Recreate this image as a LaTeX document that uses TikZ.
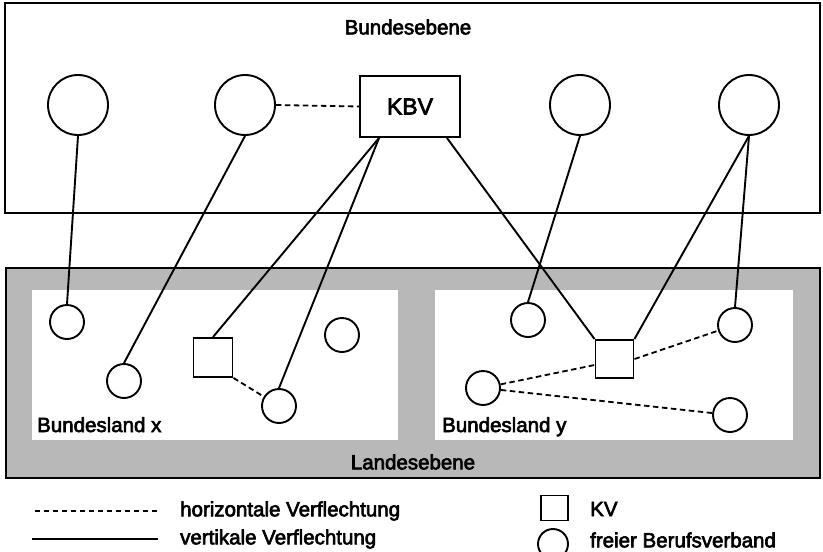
\documentclass[tikz,border=0pt]{standalone}
\usepackage{fontspec}
\setmainfont{Liberation Sans}
\newfontfamily\heavyfont{Liberation Sans}[FakeBold=3]
\begin{document}
\begin{tikzpicture}[x=1pt,y=-1pt,
  every node/.style={font=\heavyfont\fontsize{20.5}{24}\selectfont},
  lbl/.style={inner sep=0pt},
  bigcirc/.style={draw,circle,minimum size=60pt,inner sep=0pt,fill=white,line width=1.9pt},
  smallcirc/.style={draw,circle,minimum size=34pt,inner sep=0pt,fill=white,line width=1.9pt},
  kvbox/.style={draw,rectangle,minimum width=39pt,minimum height=39pt,inner sep=0pt,fill=white,line width=1.9pt},
  kbvbox/.style={draw,rectangle,minimum width=100pt,minimum height=61pt,inner sep=0pt,fill=white,line width=1.9pt,font=\heavyfont\fontsize{23}{27}\selectfont},
  vert/.style={line width=1.9pt},
  horiz/.style={line width=1.8pt,dash pattern=on 5.5pt off 3.5pt},
  frame/.style={draw,line width=1.9pt}
]
\useasboundingbox (0,0) rectangle (823,552);
% level boxes
\path[frame,fill=white] (5,3) rectangle (820,213);
\path[frame,fill=black!28] (6,268) rectangle (820,478);
\fill[white] (32,290) rectangle (398,440);
\fill[white] (435,290) rectangle (793,440);
\node[lbl] (bund) at (408,27) {Bundesebene};
\node[lbl] (land) at (413,462) {Landesebene};
\node[lbl,anchor=base west] (blx) at (37,432) {Bundesland x};
\node[lbl,anchor=base west] (bly) at (442,432) {Bundesland y};
% federal level
\node[bigcirc] (t1) at (78,105) {};
\node[bigcirc] (t2) at (245,105) {};
\node[bigcirc] (t3) at (580,105) {};
\node[bigcirc] (t4) at (749,105) {};
\node[kbvbox] (kbv) at (410,106.5) {KBV};
\coordinate (kb1) at ([xshift=20pt]kbv.south west);
\coordinate (kb2) at ([xshift=-14pt]kbv.south east);
% state x
\node[smallcirc] (a) at (67,322) {};
\node[smallcirc] (b) at (124,381) {};
\node[kvbox] (sql) at (213,357.5) {};
\node[smallcirc] (c) at (342,335) {};
\node[smallcirc] (d) at (279,406) {};
% state y
\node[smallcirc] (e) at (528,320) {};
\node[kvbox,minimum width=38pt,minimum height=38pt] (sqr) at (614.5,359) {};
\node[smallcirc] (f) at (735,325) {};
\node[smallcirc] (g) at (483,388) {};
\node[smallcirc] (h) at (730,415) {};
\coordinate (sqrin) at ([yshift=-6pt]sqr.west);
% vertical links
\draw[vert] (t1.south) -- (a.north);
\draw[vert] (t2.south) -- (b.north);
\draw[vert] (kb1) -- (sql.north);
\draw[vert] (kb1) -- (d.north);
\draw[vert] (kb2) -- (sqr.north west);
\draw[vert] (t3.south) -- (e.north);
\draw[vert] (t4.south) -- (sqr.north east);
\draw[vert] (t4.south) -- (f.north);
% horizontal links
\draw[horiz] (t2.east) -- (kbv.west);
\draw[horiz] (sql.south east) -- (d);
\draw[horiz] (g) -- (sqrin);
\draw[horiz] (sqr.east) -- (f);
\draw[horiz] (g) -- (h);
% legend
\coordinate (ld1) at (35,511);
\coordinate (ld2) at (158,511);
\coordinate (ls1) at (32,539);
\coordinate (ls2) at (158,539);
\draw[horiz,line width=1.5pt,dash pattern=on 5pt off 4pt] (ld1) -- (ld2);
\draw[vert] (ls1) -- (ls2);
\node[lbl,anchor=west] (lh) at (180,511) {horizontale Verflechtung};
\node[lbl,anchor=west] (lv) at (180,539) {vertikale Verflechtung};
\node[kvbox,minimum width=27pt,minimum height=25pt] (lkv) at (554.5,508) {};
\node[smallcirc,minimum size=30pt] (lcirc) at (553,544) {};
\node[lbl,anchor=west] (lkvt) at (590,509) {KV};
\node[lbl,anchor=west] (lbt) at (590,540) {freier Berufsverband};
\end{tikzpicture}
\end{document}
